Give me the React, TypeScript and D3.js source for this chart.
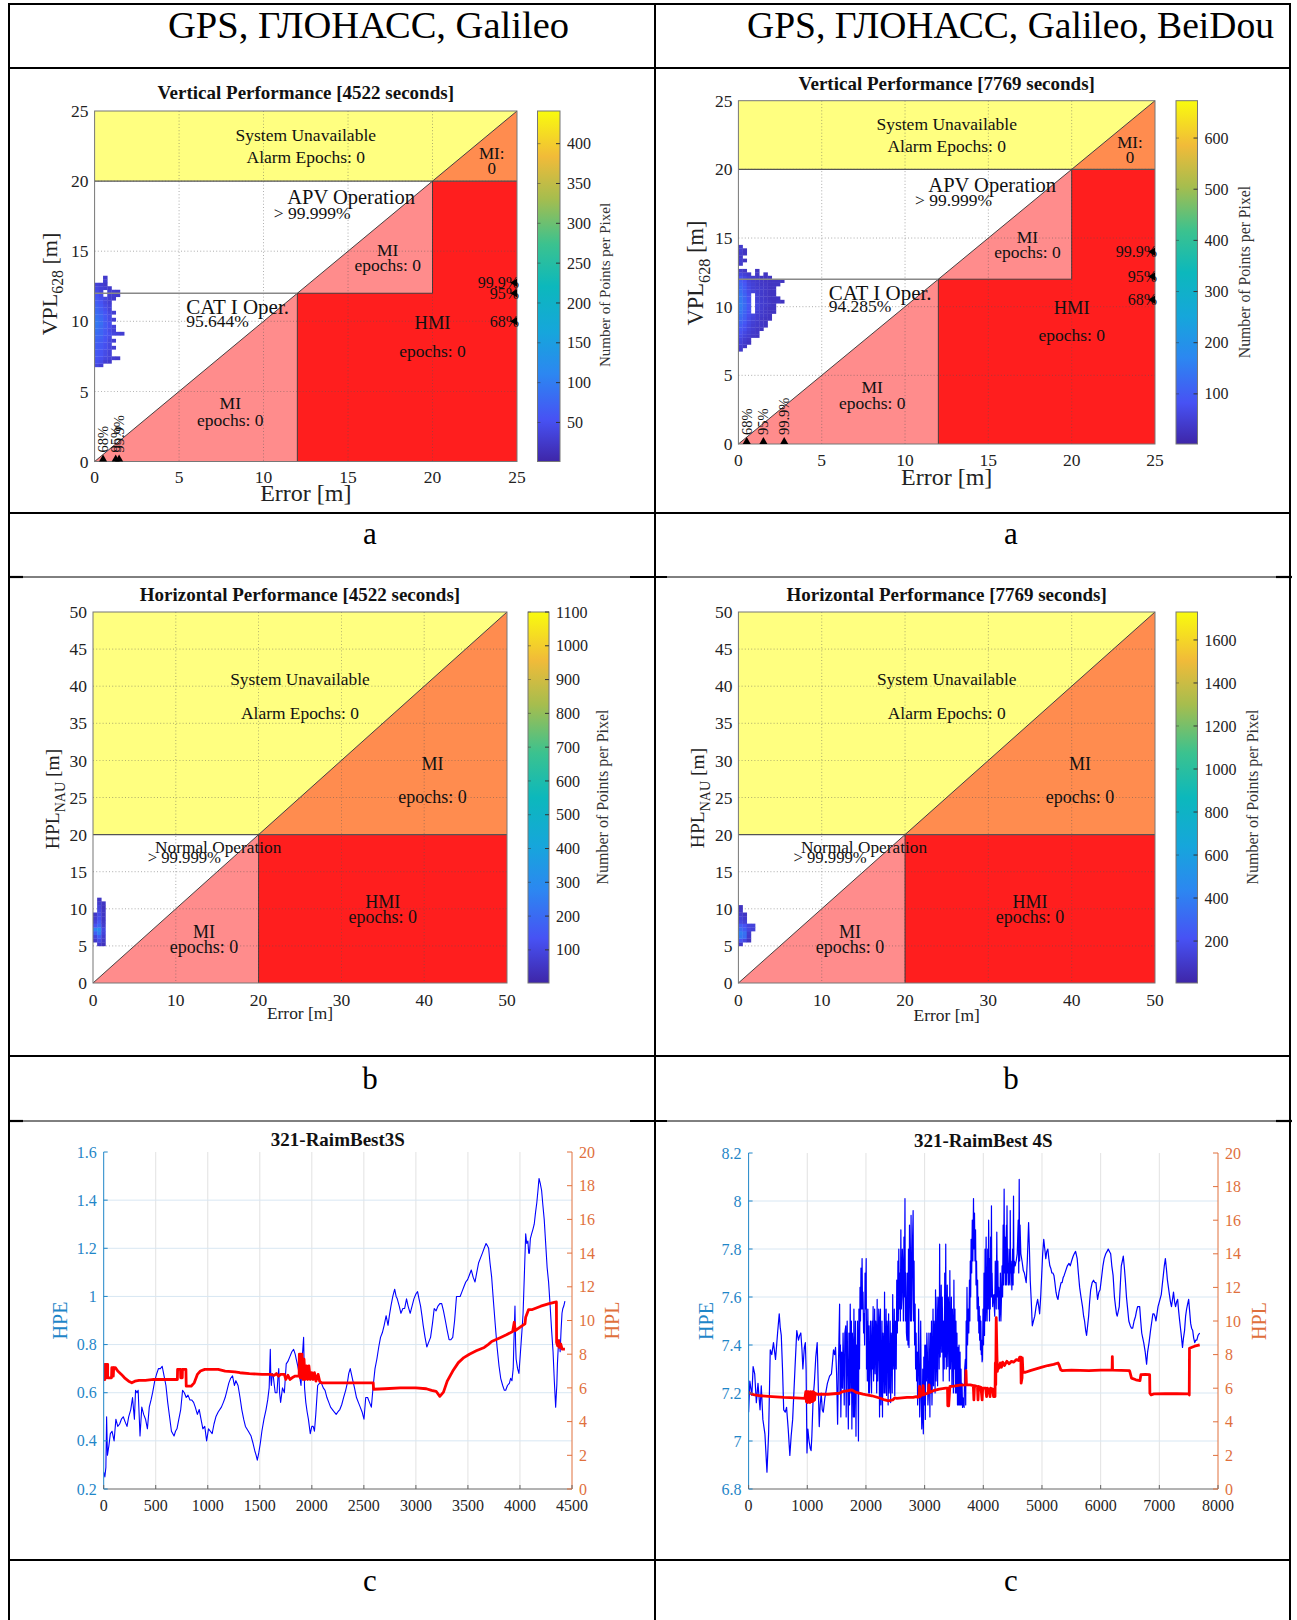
import React from "react";
import * as d3 from "d3";

const W = 1297;
const H = 1620;
const SERIF = "'Liberation Serif', 'Times New Roman', Times, serif";

// ---------------- table text ----------------
const columnHeaders = ["GPS, ГЛОНАСС, Galileo", "GPS, ГЛОНАСС, Galileo, BeiDou"];
const rowLetters = ["a", "b", "c"];

// ---------------- parula colour map ----------------
const parulaStops = [0, 0.12, 0.25, 0.37, 0.5, 0.62, 0.75, 0.87, 1];
const parulaColors = ["#3E26A8", "#4752F4", "#2C87F1", "#16A6DB", "#0CB8BC", "#3BC28F", "#A6BD4E", "#F1BB39", "#F9FB0E"];

// ---------------- Stanford diagram zones ----------------
const zoneYellow = "#FFFF80";
const zoneOrange = "#FF8C4F";
const zonePink = "#FF8C8C";
const zoneRed = "#FF1E1E";

// ---------------- vertical performance ----------------
const vMax = 25;
const vAlertCat = 12;
const vAlertApv = 20;
const vAxisTicks = [0, 5, 10, 15, 20, 25];
const vBin = 0.25;
const vLeftSeconds = 4522;
const vRightSeconds = 7769;
const vLeftCatShare = "95.644%";
const vRightCatShare = "94.285%";
const vApvShare = "> 99.999%";
const vLeftCbRange = [1, 441];
const vLeftCbTicks = [50, 100, 150, 200, 250, 300, 350, 400];
const vRightCbRange = [2, 673];
const vRightCbTicks = [100, 200, 300, 400, 500, 600];
const percentileLabels = ["68%", "95%", "99.9%"];
const vLeftErrPct = [0.5, 1.25, 1.45];
const vLeftPlPct = [10.0, 12.0, 12.75];
const vRightErrPct = [0.5, 1.5, 2.75];
const vRightPlPct = [10.5, 12.2, 14.0];

type Hist = [number, number[]][];

// [protection level bin start, points per pixel for error bins 0, 0.25, 0.5 ...]
const vLeftHist: Hist = [
  [6.75, [40, 30]],
  [7.0, [50, 45, 30, 25]],
  [7.25, [55, 50, 40, 35, 30, 25]],
  [7.5, [60, 55, 45, 35]],
  [7.75, [60, 55, 45, 35]],
  [8.0, [65, 60, 50, 40, 30]],
  [8.25, [65, 60, 50, 40]],
  [8.5, [70, 65, 55, 40, 30]],
  [8.75, [75, 70, 55, 45]],
  [9.0, [80, 75, 60, 50, 40, 35, 30]],
  [9.25, [85, 75, 60, 45, 35]],
  [9.5, [90, 80, 65, 50, 35]],
  [9.75, [95, 85, 65, 50]],
  [10.0, [90, 80, 60, 45, 30]],
  [10.25, [85, 75, 60, 45]],
  [10.5, [80, 70, 55, 40, 30]],
  [10.75, [75, 65, 50, 35]],
  [11.0, [70, 60, 45, 35]],
  [11.25, [65, 55, 40, 30]],
  [11.5, [60, 50, 40, 30, 25]],
  [11.75, [55, 45, 0, 30, 30, 25]],
  [12.0, [45, 35, 0, 30, 30, 25]],
  [12.25, [40, 35, 30, 25]],
  [12.5, [35, 30, 25]],
  [12.75, [0, 0, 30]],
  [13.0, [0, 0, 25]],
];

const vRightHist: Hist = [
  [6.75, [40]],
  [7.0, [45, 35]],
  [7.25, [55, 40, 30]],
  [7.5, [60, 45, 35]],
  [7.75, [70, 55, 45, 35, 30]],
  [8.0, [80, 65, 50, 40, 35]],
  [8.25, [90, 75, 55, 45, 35, 30]],
  [8.5, [100, 80, 60, 45, 40, 35, 30]],
  [8.75, [110, 90, 65, 50, 40, 35, 30]],
  [9.0, [120, 100, 70, 55, 45, 35, 30, 30]],
  [9.25, [130, 105, 75, 60, 45, 40, 35, 30]],
  [9.5, [140, 110, 80, 0, 50, 40, 35, 30, 30]],
  [9.75, [150, 120, 85, 0, 55, 45, 35, 30, 30]],
  [10.0, [155, 125, 90, 0, 60, 45, 40, 35, 30]],
  [10.25, [150, 120, 85, 0, 55, 45, 40, 35, 30, 35, 30]],
  [10.5, [145, 115, 80, 0, 50, 40, 35, 30, 30, 30]],
  [10.75, [140, 110, 75, 0, 50, 40, 35, 30, 30]],
  [11.0, [130, 100, 70, 55, 45, 40, 35, 30, 30]],
  [11.25, [120, 95, 65, 50, 45, 40, 35, 30, 30]],
  [11.5, [110, 90, 60, 50, 40, 35, 35, 30, 30, 30]],
  [11.75, [100, 80, 55, 45, 40, 35, 30, 30, 30, 30, 30]],
  [12.0, [80, 65, 50, 40, 35, 30, 30, 30]],
  [12.25, [60, 50, 40, 0, 35, 0, 30]],
  [12.5, [45, 35, 0, 0, 30]],
  [13.0, [40]],
  [13.25, [45, 30]],
  [13.5, [40]],
  [13.75, [40, 30]],
  [14.0, [45, 30]],
  [14.25, [40]],
];

// ---------------- horizontal performance ----------------
const hMax = 50;
const hAlert = 20;
const hAxisTicks = [0, 10, 20, 30, 40, 50];
const hAxisTicksY = [0, 5, 10, 15, 20, 25, 30, 35, 40, 45, 50];
const hBin = 0.5;
const hLeftCbRange = [2, 1100];
const hLeftCbTicks = [100, 200, 300, 400, 500, 600, 700, 800, 900, 1000, 1100];
const hRightCbRange = [5, 1730];
const hRightCbTicks = [200, 400, 600, 800, 1000, 1200, 1400, 1600];

const hLeftHist: Hist = [
  [5.0, [0, 60, 40]],
  [5.5, [60, 110, 60]],
  [6.0, [90, 160, 70]],
  [6.5, [170, 250, 90]],
  [7.0, [260, 290, 100]],
  [7.5, [130, 190, 70]],
  [8.0, [90, 150, 60]],
  [8.5, [70, 120, 50]],
  [9.0, [60, 110, 50]],
  [9.5, [0, 100, 50]],
  [10.0, [0, 90, 40]],
  [10.5, [0, 70, 50]],
  [11.0, [0, 50]],
];

const hRightHist: Hist = [
  [5.0, [90]],
  [5.5, [220, 160, 70]],
  [6.0, [370, 320, 100]],
  [6.5, [400, 340, 110]],
  [7.0, [320, 260, 160, 130]],
  [7.5, [260, 210, 150, 140]],
  [8.0, [160, 130]],
  [8.5, [130, 100]],
  [9.0, [110, 80]],
  [9.5, [90]],
  [10.0, [70]],
];

// ---------------- RAIM time series ----------------
const hplDomain = [0, 20];
const hplTicks = [0, 2, 4, 6, 8, 10, 12, 14, 16, 18, 20];

const best3Title = "321-RaimBest3S";
const best3TimeTicks = [0, 500, 1000, 1500, 2000, 2500, 3000, 3500, 4000, 4500];
const best3HpeDomain = [0.2, 1.6];
const best3HpeTicks = [0.2, 0.4, 0.6, 0.8, 1.0, 1.2, 1.4, 1.6];

// [time s, HPE m]
const best3Hpe: [number, number][] = [
  [0, 0.27], [11, 0.25], [21, 0.29], [28, 0.5], [36, 0.34], [50, 0.38], [64, 0.43], [80, 0.44], [100, 0.4],
  [117, 0.49], [135, 0.46], [153, 0.47], [170, 0.49], [188, 0.5], [205, 0.48], [224, 0.46], [240, 0.5],
  [260, 0.53], [277, 0.58], [295, 0.49], [306, 0.61], [320, 0.6], [331, 0.61], [349, 0.42], [366, 0.54],
  [384, 0.51], [402, 0.49], [420, 0.45], [438, 0.54], [455, 0.57], [470, 0.6], [491, 0.65], [510, 0.68],
  [526, 0.7], [545, 0.7], [562, 0.71], [580, 0.67], [598, 0.63], [615, 0.56], [633, 0.5], [651, 0.44],
  [676, 0.42], [690, 0.44], [704, 0.45], [722, 0.49], [740, 0.53], [758, 0.61], [775, 0.6], [793, 0.58],
  [810, 0.59], [829, 0.57], [845, 0.57], [864, 0.56], [880, 0.54], [900, 0.51], [918, 0.53], [935, 0.49],
  [953, 0.45], [971, 0.46], [989, 0.4], [1007, 0.45], [1025, 0.44], [1042, 0.43], [1060, 0.47], [1078, 0.5],
  [1100, 0.52], [1131, 0.54], [1150, 0.56], [1167, 0.58], [1185, 0.61], [1202, 0.64], [1220, 0.66],
  [1238, 0.67], [1256, 0.63], [1270, 0.65], [1291, 0.63], [1310, 0.58], [1327, 0.53], [1345, 0.49],
  [1362, 0.46], [1390, 0.44], [1416, 0.42], [1435, 0.39], [1451, 0.36], [1465, 0.34], [1476, 0.32],
  [1490, 0.35], [1505, 0.39], [1520, 0.44], [1540, 0.49], [1560, 0.53], [1576, 0.57], [1590, 0.62],
  [1601, 0.78], [1606, 0.66], [1611, 0.63], [1620, 0.68], [1629, 0.67], [1648, 0.6], [1665, 0.6],
  [1674, 0.66], [1682, 0.7], [1690, 0.6], [1700, 0.56], [1718, 0.62], [1736, 0.6], [1754, 0.72],
  [1770, 0.73], [1789, 0.75], [1808, 0.77], [1825, 0.78], [1840, 0.76], [1850, 0.74], [1865, 0.71],
  [1878, 0.68], [1896, 0.63], [1910, 0.76], [1921, 0.83], [1930, 0.62], [1942, 0.56], [1955, 0.52],
  [1967, 0.49], [1985, 0.43], [2000, 0.46], [2013, 0.46], [2025, 0.44], [2038, 0.51], [2056, 0.63],
  [2075, 0.64], [2092, 0.64], [2110, 0.62], [2127, 0.61], [2145, 0.58], [2163, 0.56], [2180, 0.54],
  [2198, 0.53], [2215, 0.52], [2234, 0.51], [2250, 0.52], [2269, 0.53], [2287, 0.55], [2305, 0.58],
  [2325, 0.61], [2341, 0.64], [2355, 0.68], [2369, 0.7], [2394, 0.65], [2410, 0.62], [2429, 0.58],
  [2447, 0.56], [2465, 0.54], [2483, 0.52], [2501, 0.49], [2518, 0.58], [2536, 0.58], [2554, 0.56],
  [2572, 0.54], [2580, 0.58], [2590, 0.63], [2607, 0.7], [2625, 0.74], [2643, 0.79], [2660, 0.83],
  [2678, 0.85], [2695, 0.88], [2714, 0.92], [2732, 0.88], [2745, 0.92], [2760, 0.96], [2778, 1.0],
  [2796, 1.03], [2810, 1.0], [2821, 0.99], [2840, 0.96], [2856, 0.93], [2875, 0.95], [2892, 0.95],
  [2910, 0.99], [2925, 0.96], [2945, 0.93], [2963, 0.96], [2981, 0.99], [3000, 1.01], [3016, 1.02],
  [3030, 0.99], [3045, 0.96], [3058, 0.92], [3070, 0.88], [3088, 0.83], [3105, 0.79], [3123, 0.81],
  [3141, 0.83], [3160, 0.89], [3176, 0.95], [3194, 0.94], [3212, 0.96], [3230, 0.97], [3248, 0.97],
  [3265, 0.94], [3283, 0.9], [3300, 0.86], [3319, 0.82], [3336, 0.82], [3354, 0.83], [3372, 0.9],
  [3390, 1.0], [3408, 1.0], [3425, 1.0], [3443, 1.02], [3461, 1.04], [3479, 1.06], [3497, 1.07],
  [3515, 1.09], [3532, 1.11], [3550, 1.08], [3568, 1.06], [3585, 1.1], [3603, 1.14], [3621, 1.16],
  [3639, 1.18], [3656, 1.2], [3674, 1.22], [3688, 1.21], [3699, 1.2], [3712, 1.14], [3728, 1.08],
  [3745, 0.98], [3763, 0.88], [3780, 0.79], [3799, 0.71], [3815, 0.66], [3834, 0.63], [3850, 0.61],
  [3863, 0.61], [3880, 0.63], [3899, 0.64], [3910, 0.66], [3923, 0.65], [3935, 0.7], [3941, 0.8],
  [3952, 0.96], [3958, 0.8], [3963, 0.74], [3977, 0.7], [3990, 0.68], [4005, 0.77], [4018, 0.85],
  [4030, 0.93], [4043, 1.1], [4055, 1.26], [4065, 1.22], [4076, 1.23], [4084, 1.18], [4091, 1.18],
  [4100, 1.24], [4112, 1.26], [4125, 1.28], [4137, 1.3], [4150, 1.35], [4162, 1.39], [4173, 1.44],
  [4183, 1.49], [4195, 1.47], [4208, 1.44], [4220, 1.38], [4233, 1.32], [4247, 1.22], [4261, 1.12],
  [4275, 1.06], [4290, 0.96], [4304, 0.86], [4318, 0.77], [4330, 0.65], [4343, 0.54], [4350, 0.6],
  [4354, 0.63], [4360, 0.72], [4368, 0.79], [4378, 0.82], [4386, 0.77], [4395, 0.86], [4404, 0.93],
  [4412, 0.95], [4421, 0.96], [4432, 0.98],
];

// [time s, HPL m]
const best3Hpl: [number, number][] = [
  [0, 6.5], [12, 6.5], [12, 7.4], [20, 7.4], [22, 6.6], [28, 7.4], [38, 7.4], [38, 6.6], [75, 6.6],
  [78, 7.2], [90, 7.2], [92, 6.7], [96, 7.2], [112, 7.2], [135, 7.0], [170, 6.8], [200, 6.6], [240, 6.4],
  [270, 6.3], [300, 6.4], [340, 6.45], [400, 6.45], [480, 6.5], [560, 6.5], [640, 6.5], [708, 6.5],
  [710, 7.1], [738, 7.1], [740, 6.6], [755, 6.6], [757, 7.1], [790, 7.1], [793, 6.1], [840, 6.1],
  [870, 6.3], [900, 6.8], [930, 7.0], [971, 7.1], [1100, 7.1], [1167, 7.0], [1260, 6.95], [1309, 6.9],
  [1400, 6.85], [1522, 6.8], [1600, 6.8], [1640, 6.75], [1660, 6.85], [1680, 6.7], [1700, 6.8],
  [1736, 6.8], [1750, 6.5], [1770, 6.75], [1790, 6.5], [1810, 6.6], [1840, 6.7], [1878, 6.7],
  [1880, 8.0], [1888, 6.6], [1893, 8.0], [1902, 6.6], [1906, 8.0], [1916, 6.5], [1925, 7.7],
  [1935, 6.5], [1948, 7.3], [1960, 6.5], [1972, 7.3], [1985, 6.5], [2000, 6.9], [2012, 6.5],
  [2025, 6.9], [2040, 6.4], [2060, 6.8], [2075, 6.4], [2092, 6.3], [2300, 6.3], [2500, 6.3],
  [2590, 6.3], [2593, 5.92], [2700, 5.95], [2850, 6.0], [3000, 6.0], [3100, 5.95], [3150, 5.85],
  [3194, 5.8], [3230, 5.5], [3265, 5.75], [3301, 6.4], [3354, 7.0], [3408, 7.5], [3461, 7.8],
  [3514, 8.0], [3580, 8.2], [3657, 8.4], [3700, 8.6], [3728, 8.75], [3799, 8.95], [3870, 9.15],
  [3930, 9.35], [3945, 9.9], [3955, 9.4], [4012, 9.65], [4048, 9.8], [4055, 10.2], [4083, 10.65],
  [4119, 10.65], [4200, 10.85], [4280, 11.0], [4350, 11.1], [4352, 8.7], [4362, 8.5], [4372, 8.8],
  [4380, 8.4], [4392, 8.6], [4405, 8.3], [4432, 8.3],
];

const best4Title = "321-RaimBest 4S";
const best4TimeTicks = [0, 1000, 2000, 3000, 4000, 5000, 6000, 7000, 8000];
const best4HpeDomain = [6.8, 8.2];
const best4HpeTicks = [6.8, 7.0, 7.2, 7.4, 7.6, 7.8, 8.0, 8.2];

// [time s, HPE m]
const best4Hpe: [number, number][] = [
  [0, 7.12], [21, 7.25], [56, 7.19], [77, 7.31], [104, 7.28], [132, 7.16], [160, 7.24], [195, 7.13],
  [216, 7.23], [243, 7.09], [278, 7.03], [313, 6.87], [341, 7.03], [369, 7.38], [395, 7.36], [424, 7.41],
  [459, 7.34], [494, 7.45], [522, 7.53], [540, 7.47], [557, 7.44], [578, 7.3], [598, 7.13], [625, 7.12],
  [647, 7.14], [675, 7.05], [703, 6.94], [725, 7.02], [751, 7.09], [790, 7.3], [821, 7.46], [850, 7.42],
  [870, 7.44], [890, 7.45], [910, 7.38], [925, 7.3], [950, 7.39], [967, 7.41], [980, 7.3], [995, 6.95],
  [1010, 7.05], [1030, 7.0], [1050, 6.97], [1065, 6.96], [1078, 7.02], [1100, 7.18], [1120, 7.24],
  [1145, 7.35], [1169, 7.41], [1185, 7.25], [1204, 7.06], [1220, 7.15], [1238, 7.2], [1255, 7.13],
  [1273, 7.12], [1300, 7.18], [1343, 7.24], [1380, 7.27], [1412, 7.28], [1430, 7.33], [1447, 7.38],
  [1465, 7.36], [1482, 7.39], [1500, 7.28], [1517, 7.07], [1530, 7.3], [1551, 7.57], [1558, 7.2],
  [1565, 7.4], [1572, 7.1], [1586, 7.37], [1600, 7.22], [1610, 7.45], [1621, 7.3], [1630, 7.15],
  [1640, 7.45], [1656, 7.48], [1663, 7.1], [1670, 7.32], [1680, 7.5], [1691, 7.23], [1700, 7.05],
  [1710, 7.45], [1720, 7.15], [1732, 7.57], [1745, 7.2], [1752, 7.5], [1760, 7.05], [1768, 7.45],
  [1775, 7.4], [1785, 7.1], [1795, 7.55], [1803, 7.1], [1812, 7.25], [1820, 7.5], [1830, 7.02],
  [1838, 7.4], [1847, 7.2], [1856, 7.5], [1864, 7.34], [1872, 7.0], [1880, 7.55], [1890, 7.3],
  [1899, 7.64], [1907, 7.5], [1915, 7.72], [1925, 7.55], [1934, 7.76], [1942, 7.55], [1950, 7.62],
  [1960, 7.45], [1969, 7.53], [1977, 7.4], [1985, 7.7], [1995, 7.55], [2004, 7.76], [2010, 7.3],
  [2015, 7.5], [2024, 7.25], [2032, 7.55], [2040, 7.4], [2046, 7.2], [2052, 7.48], [2060, 7.2],
  [2070, 7.3], [2078, 7.5], [2087, 7.38], [2095, 7.2], [2105, 7.5], [2113, 7.3], [2122, 7.56],
  [2130, 7.25], [2140, 7.35], [2148, 7.55], [2157, 7.28], [2166, 7.5], [2175, 7.45], [2183, 7.2],
  [2191, 7.59], [2200, 7.25], [2210, 7.4], [2218, 7.55], [2226, 7.35], [2232, 7.1], [2237, 7.5],
  [2247, 7.55], [2255, 7.15], [2265, 7.25], [2273, 7.5], [2282, 7.1], [2290, 7.45], [2300, 7.4],
  [2308, 7.2], [2317, 7.62], [2326, 7.2], [2335, 7.3], [2343, 7.55], [2351, 7.19], [2360, 7.5],
  [2370, 7.45], [2378, 7.15], [2386, 7.53], [2395, 7.2], [2405, 7.25], [2413, 7.5], [2421, 7.16],
  [2430, 7.45], [2440, 7.4], [2448, 7.2], [2456, 7.61], [2465, 7.3], [2475, 7.35], [2483, 7.55],
  [2491, 7.19], [2500, 7.5], [2508, 7.45], [2516, 7.3], [2525, 7.67], [2535, 7.45], [2545, 7.75],
  [2552, 7.5], [2560, 7.8], [2569, 7.55], [2578, 7.7], [2586, 7.5], [2595, 7.88], [2603, 7.55],
  [2612, 7.6], [2620, 7.8], [2630, 7.71], [2638, 7.5], [2648, 7.85], [2656, 7.6], [2665, 8.01],
  [2672, 7.5], [2680, 7.7], [2690, 7.45], [2699, 7.42], [2708, 7.7], [2716, 7.4], [2725, 7.8],
  [2734, 7.39], [2742, 7.9], [2750, 7.7], [2760, 7.5], [2769, 7.94], [2777, 7.5], [2785, 7.6],
  [2795, 7.85], [2804, 7.96], [2812, 7.5], [2820, 7.75], [2829, 7.4], [2838, 7.57], [2846, 7.3],
  [2855, 7.45], [2863, 7.25], [2873, 7.37], [2881, 7.15], [2890, 7.3], [2898, 7.55], [2908, 7.3],
  [2916, 7.1], [2925, 7.22], [2933, 7.5], [2943, 7.2], [2951, 7.05], [2960, 7.1], [2968, 7.3],
  [2978, 7.03], [2986, 7.35], [2995, 7.15], [3003, 7.4], [3012, 7.09], [3020, 7.4], [3030, 7.25],
  [3038, 7.45], [3047, 7.37], [3056, 7.15], [3065, 7.2], [3073, 7.45], [3082, 7.31], [3090, 7.1],
  [3100, 7.45], [3108, 7.2], [3117, 7.5], [3125, 7.15], [3135, 7.3], [3143, 7.55], [3152, 7.23],
  [3160, 7.5], [3170, 7.45], [3178, 7.2], [3186, 7.63], [3195, 7.25], [3205, 7.35], [3213, 7.6],
  [3221, 7.23], [3230, 7.5], [3240, 7.6], [3248, 7.3], [3256, 7.82], [3265, 7.35], [3275, 7.45],
  [3283, 7.65], [3291, 7.37], [3300, 7.6], [3308, 7.45], [3316, 7.25], [3325, 7.5], [3334, 7.3],
  [3343, 7.7], [3351, 7.35], [3360, 7.82], [3369, 7.3], [3378, 7.45], [3386, 7.65], [3395, 7.31],
  [3403, 7.6], [3412, 7.55], [3421, 7.25], [3430, 7.71], [3439, 7.3], [3448, 7.4], [3456, 7.6],
  [3465, 7.23], [3473, 7.55], [3482, 7.45], [3490, 7.2], [3499, 7.67], [3508, 7.3], [3517, 7.55],
  [3525, 7.2], [3534, 7.5], [3542, 7.2], [3551, 7.45], [3560, 7.15], [3569, 7.39], [3577, 7.15],
  [3586, 7.4], [3595, 7.15], [3604, 7.37], [3612, 7.15], [3620, 7.3], [3629, 7.15], [3638, 7.24],
  [3646, 7.14], [3655, 7.18], [3664, 7.15], [3673, 7.14], [3683, 7.3], [3694, 7.34], [3700, 7.15],
  [3708, 7.5], [3715, 7.3], [3722, 7.64], [3732, 7.4], [3743, 7.55], [3753, 7.45], [3764, 7.67],
  [3771, 7.5], [3778, 7.75], [3785, 7.6], [3792, 7.84], [3802, 7.7], [3812, 7.92], [3822, 7.75],
  [3833, 8.01], [3841, 7.8], [3850, 7.95], [3859, 7.75], [3868, 7.88], [3876, 7.65], [3885, 7.75],
  [3894, 7.55], [3903, 7.67], [3910, 7.5], [3917, 7.6], [3924, 7.45], [3931, 7.56], [3938, 7.42],
  [3945, 7.52], [3952, 7.38], [3959, 7.5], [3966, 7.36], [3972, 7.42], [3979, 7.33], [3986, 7.34],
  [3995, 7.55], [4004, 7.4], [4012, 7.7], [4021, 7.44], [4030, 7.8], [4040, 7.5], [4048, 7.85],
  [4056, 7.59], [4065, 7.5], [4075, 7.8], [4083, 7.55], [4091, 7.92], [4100, 7.7], [4106, 7.5],
  [4112, 7.76], [4119, 7.55], [4125, 7.85], [4132, 7.6], [4139, 7.98], [4145, 7.6], [4150, 7.7],
  [4160, 7.56], [4170, 7.6], [4181, 7.61], [4188, 7.55], [4195, 7.52], [4204, 7.75], [4212, 7.7],
  [4221, 7.55], [4230, 7.87], [4239, 7.6], [4248, 7.75], [4256, 7.55], [4265, 7.64], [4273, 7.5],
  [4282, 7.55], [4291, 7.7], [4300, 7.5], [4310, 7.6], [4320, 7.73], [4329, 7.6], [4338, 7.9],
  [4346, 7.65], [4355, 8.05], [4362, 7.7], [4370, 7.85], [4377, 7.65], [4383, 7.76], [4394, 7.9],
  [4399, 7.65], [4404, 7.98], [4412, 7.7], [4420, 7.8], [4430, 7.65], [4439, 7.67], [4450, 7.8],
  [4455, 7.65], [4459, 7.96], [4466, 7.7], [4473, 7.75], [4487, 7.63], [4500, 7.8], [4508, 7.65],
  [4515, 8.02], [4522, 7.7], [4530, 7.75], [4543, 7.73], [4560, 7.75], [4578, 7.78], [4595, 7.92],
  [4604, 7.7], [4612, 8.09], [4619, 7.75], [4626, 7.9], [4640, 7.78], [4660, 7.75], [4682, 7.71],
  [4700, 7.7], [4731, 7.66], [4750, 7.75], [4772, 7.91], [4786, 7.8], [4800, 7.67], [4818, 7.58],
  [4835, 7.48], [4855, 7.5], [4877, 7.52], [4900, 7.56], [4926, 7.59], [4945, 7.56], [4960, 7.53],
  [4978, 7.6], [4995, 7.69], [5012, 7.78], [5030, 7.84], [5048, 7.8], [5065, 7.76], [5082, 7.79],
  [5100, 7.8], [5117, 7.76], [5134, 7.73], [5150, 7.72], [5169, 7.7], [5186, 7.7], [5204, 7.69],
  [5220, 7.66], [5239, 7.62], [5256, 7.6], [5273, 7.59], [5290, 7.62], [5308, 7.64], [5325, 7.66],
  [5343, 7.66], [5360, 7.68], [5378, 7.69], [5405, 7.71], [5433, 7.73], [5460, 7.74], [5482, 7.73],
  [5505, 7.75], [5531, 7.77], [5550, 7.78], [5573, 7.79], [5600, 7.76], [5620, 7.7], [5642, 7.64],
  [5665, 7.6], [5691, 7.56], [5710, 7.52], [5726, 7.5], [5745, 7.46], [5760, 7.44], [5778, 7.48],
  [5795, 7.52], [5812, 7.58], [5830, 7.63], [5855, 7.66], [5879, 7.67], [5900, 7.66], [5920, 7.66],
  [5935, 7.62], [5948, 7.59], [5970, 7.62], [5990, 7.63], [6015, 7.68], [6039, 7.73], [6060, 7.76],
  [6087, 7.78], [6110, 7.79], [6129, 7.8], [6150, 7.79], [6171, 7.78], [6190, 7.73], [6212, 7.69],
  [6235, 7.6], [6254, 7.56], [6270, 7.53], [6282, 7.52], [6300, 7.54], [6317, 7.56], [6335, 7.65],
  [6352, 7.73], [6370, 7.75], [6386, 7.77], [6405, 7.72], [6421, 7.67], [6440, 7.6], [6456, 7.56],
  [6480, 7.5], [6505, 7.48], [6525, 7.47], [6546, 7.47], [6570, 7.5], [6595, 7.52], [6610, 7.54],
  [6630, 7.56], [6650, 7.56], [6665, 7.56], [6683, 7.5], [6700, 7.45], [6717, 7.43], [6734, 7.41],
  [6760, 7.37], [6783, 7.32], [6800, 7.37], [6825, 7.41], [6850, 7.46], [6873, 7.5], [6890, 7.53],
  [6908, 7.53], [6925, 7.52], [6943, 7.5], [6960, 7.53], [6978, 7.56], [7000, 7.58], [7033, 7.61],
  [7050, 7.65], [7068, 7.69], [7085, 7.73], [7103, 7.76], [7120, 7.72], [7138, 7.67], [7155, 7.64],
  [7172, 7.61], [7190, 7.58], [7207, 7.56], [7225, 7.59], [7242, 7.62], [7260, 7.58], [7277, 7.56],
  [7295, 7.58], [7312, 7.59], [7330, 7.54], [7347, 7.5], [7370, 7.45], [7395, 7.39], [7412, 7.43],
  [7430, 7.46], [7448, 7.52], [7465, 7.55], [7482, 7.57], [7500, 7.59], [7517, 7.54], [7534, 7.49],
  [7550, 7.47], [7569, 7.46], [7585, 7.43], [7604, 7.41], [7620, 7.42], [7639, 7.42], [7660, 7.44],
  [7688, 7.45],
];

// [time s, HPL m]
const best4Hpl: [number, number][] = [
  [0, 5.75], [30, 5.7], [80, 5.62], [200, 5.55], [400, 5.5], [600, 5.45], [800, 5.42], [960, 5.4],
  [975, 5.8], [985, 5.2], [995, 5.8], [1005, 5.15], [1015, 5.8], [1025, 5.2], [1035, 5.75], [1045, 5.15],
  [1055, 5.8], [1065, 5.2], [1075, 5.75], [1085, 5.2], [1095, 5.8], [1105, 5.25], [1115, 5.75],
  [1125, 5.3], [1135, 5.7], [1169, 5.64], [1350, 5.64], [1551, 5.7], [1600, 5.8], [1700, 5.85],
  [1760, 5.9], [1830, 5.75], [1950, 5.65], [2100, 5.55], [2247, 5.4], [2320, 5.3], [2386, 5.25],
  [2456, 5.3], [2490, 5.42], [2525, 5.4], [2700, 5.45], [2804, 5.45], [2860, 5.5], [2880, 5.45],
  [2905, 5.5], [2915, 6.1], [2925, 5.5], [2943, 5.66], [2960, 5.6], [2975, 6.15], [2985, 5.6],
  [3012, 5.66], [3060, 5.7], [3075, 6.2], [3085, 5.75], [3150, 5.85], [3250, 5.95], [3360, 6.0],
  [3390, 6.0], [3395, 4.95], [3410, 4.95], [3430, 6.1], [3500, 6.12], [3600, 6.18], [3700, 6.2],
  [3705, 7.05], [3712, 6.2], [3780, 6.2], [3830, 6.15], [3840, 5.3], [3850, 6.15], [3900, 6.1],
  [3910, 5.3], [3920, 6.1], [3960, 6.05], [3980, 5.3], [3990, 6.0], [4040, 6.0], [4056, 5.5],
  [4070, 6.0], [4100, 5.9], [4115, 5.5], [4125, 6.0], [4160, 5.95], [4175, 5.5], [4200, 5.5],
  [4205, 7.5], [4212, 6.2], [4220, 10.2], [4232, 8.0], [4240, 7.0], [4255, 7.4], [4270, 7.2],
  [4290, 7.5], [4310, 7.25], [4330, 7.55], [4360, 7.35], [4400, 7.6], [4440, 7.45], [4480, 7.6],
  [4520, 7.55], [4560, 7.7], [4600, 7.65], [4620, 7.85], [4640, 7.85], [4645, 6.3], [4660, 6.6],
  [4665, 7.8], [4675, 6.95], [4720, 6.95], [4800, 7.05], [4900, 7.15], [5000, 7.25], [5100, 7.35],
  [5200, 7.42], [5273, 7.5], [5290, 7.4], [5320, 7.1], [5343, 7.05], [5500, 7.08], [5800, 7.05],
  [6000, 7.07], [6170, 7.07], [6195, 7.07], [6199, 7.88], [6203, 7.07], [6350, 7.06], [6491, 7.05],
  [6500, 6.95], [6526, 6.6], [6600, 6.5], [6670, 6.45], [6686, 6.8], [6760, 6.82], [6835, 6.8],
  [6839, 5.7], [6860, 5.6], [6908, 5.66], [7100, 5.67], [7300, 5.67], [7500, 5.66], [7510, 5.6],
  [7514, 8.38], [7600, 8.5], [7688, 8.58],
];

// ---------------- helpers ----------------
const fmtTick = (v: number) => String(+v.toFixed(1));
const hpeColor = "#1F86C8";
const hplColor = "#E0703C";

type Box = { left: number; right: number; top: number; bottom: number };

type Note = { x: number; y: number; t: string; s: number; a: "start" | "middle" | "end" };

const vNotes = (catShare: string): Note[] => [
  { x: 12.5, y: 23.3, t: "System Unavailable", s: 17.5, a: "middle" },
  { x: 12.5, y: 21.7, t: "Alarm Epochs: 0", s: 17.5, a: "middle" },
  { x: 23.5, y: 22.0, t: "MI:", s: 17, a: "middle" },
  { x: 23.5, y: 20.9, t: "0", s: 17, a: "middle" },
  { x: 11.4, y: 18.9, t: "APV Operation", s: 20.5, a: "start" },
  { x: 10.6, y: 17.75, t: vApvShare, s: 17.5, a: "start" },
  { x: 17.35, y: 15.1, t: "MI", s: 17.5, a: "middle" },
  { x: 17.35, y: 14.0, t: "epochs: 0", s: 17.5, a: "middle" },
  { x: 5.42, y: 11.05, t: "CAT I Oper.", s: 21, a: "start" },
  { x: 5.42, y: 10.05, t: catShare, s: 17.5, a: "start" },
  { x: 20.0, y: 9.92, t: "HMI", s: 18.5, a: "middle" },
  { x: 20.0, y: 7.92, t: "epochs: 0", s: 17.5, a: "middle" },
  { x: 8.03, y: 4.15, t: "MI", s: 17.5, a: "middle" },
  { x: 8.03, y: 2.96, t: "epochs: 0", s: 17.5, a: "middle" },
];

const hNotes: Note[] = [
  { x: 25, y: 41.0, t: "System Unavailable", s: 17.4, a: "middle" },
  { x: 25, y: 36.4, t: "Alarm Epochs: 0", s: 17.4, a: "middle" },
  { x: 41, y: 29.6, t: "MI", s: 18, a: "middle" },
  { x: 41, y: 25.1, t: "epochs: 0", s: 18, a: "middle" },
  { x: 7.5, y: 18.3, t: "Normal Operation", s: 17.3, a: "start" },
  { x: 6.6, y: 17.0, t: "> 99.999%", s: 16.7, a: "start" },
  { x: 35, y: 10.9, t: "HMI", s: 18, a: "middle" },
  { x: 35, y: 8.9, t: "epochs: 0", s: 18, a: "middle" },
  { x: 13.4, y: 6.9, t: "MI", s: 18, a: "middle" },
  { x: 13.4, y: 4.9, t: "epochs: 0", s: 18, a: "middle" },
];

type PerfProps = {
  id: string;
  kind: "V" | "H";
  box: Box;
  title: string;
  titleY: number;
  cbLeft: number;
  cbWidth: number;
  cbRange: number[];
  cbTicks: number[];
  hist: Hist;
  notes: Note[];
  errPct?: number[];
  plPct?: number[];
  yLabel: [string, string];
  yLabelPos: [number, number];
  yLabelSize: number;
  xLabelY: number;
  xLabelSize: number;
  cbLabelPos: [number, number];
  cbLabelSize: number;
  tickSize: number;
  tickLabelY: number;
};

function PerfPanel(p: PerfProps) {
  const isV = p.kind === "V";
  const M = isV ? vMax : hMax;
  const A1 = isV ? vAlertCat : hAlert;
  const A2 = isV ? vAlertApv : hAlert;
  const bin = isV ? vBin : hBin;
  const { left, right, top, bottom } = p.box;
  const x = d3.scaleLinear().domain([0, M]).range([left, right]);
  const y = d3.scaleLinear().domain([0, M]).range([bottom, top]);
  const pts = (arr: number[][]) => arr.map(([a, b]) => `${x(a)},${y(b)}`).join(" ");

  const regions = isV
    ? [
        { f: zoneYellow, p: [[0, A2], [0, M], [M, M], [A2, A2]] },
        { f: zoneOrange, p: [[A2, A2], [M, M], [M, A2]] },
        { f: zonePink, p: [[0, 0], [A1, A1], [A1, 0]] },
        { f: zonePink, p: [[A1, A1], [A2, A2], [A2, A1]] },
        { f: zoneRed, p: [[A1, 0], [M, 0], [M, A2], [A2, A2], [A2, A1], [A1, A1]] },
      ]
    : [
        { f: zoneYellow, p: [[0, A1], [0, M], [M, M], [A1, A1]] },
        { f: zoneOrange, p: [[A1, A1], [M, M], [M, A1]] },
        { f: zonePink, p: [[0, 0], [A1, A1], [A1, 0]] },
        { f: zoneRed, p: [[A1, 0], [M, 0], [M, A1], [A1, A1]] },
      ];

  const ticksX = isV ? vAxisTicks : hAxisTicks;
  const ticksY = isV ? vAxisTicks : hAxisTicksY;
  const gridX = ticksX.filter((t) => t > 0 && t < M);
  const gridY = ticksY.filter((t) => t > 0 && t < M);

  const [cMin, cMax] = p.cbRange;
  const color = d3
    .scaleLinear<string>()
    .domain(parulaStops.map((s) => cMin + s * (cMax - cMin)))
    .range(parulaColors)
    .clamp(true);
  const cbY = d3.scaleLinear().domain([cMin, cMax]).range([bottom, top]);

  const cells: { x0: number; y0: number; c: number }[] = [];
  p.hist.forEach(([pl, counts]) => {
    counts.forEach((c, i) => {
      if (c > 0) cells.push({ x0: i * bin, y0: pl, c });
    });
  });

  const gradId = `grad-${p.id}`;
  const cx = (left + right) / 2;

  return (
    <g>
      <defs>
        <linearGradient id={gradId} x1="0" y1="1" x2="0" y2="0">
          {parulaStops.map((s, i) => (
            <stop key={i} offset={s} stopColor={parulaColors[i]} />
          ))}
        </linearGradient>
      </defs>
      <text x={cx} y={p.titleY} textAnchor="middle" fontSize={19} fontWeight="bold" fill="#111">
        {p.title}
      </text>
      <rect x={left} y={top} width={right - left} height={bottom - top} fill="#fff" />
      {regions.map((r, i) => (
        <polygon key={i} points={pts(r.p)} fill={r.f} stroke="none" />
      ))}
      {/* dotted grid */}
      {gridX.map((g) => (
        <line key={`gx${g}`} x1={x(g)} x2={x(g)} y1={top} y2={bottom} stroke="#555" strokeWidth={0.8} strokeDasharray="1 2.2" opacity={0.6} />
      ))}
      {gridY.map((g) => (
        <line key={`gy${g}`} x1={left} x2={right} y1={y(g)} y2={y(g)} stroke="#555" strokeWidth={0.8} strokeDasharray="1 2.2" opacity={0.6} />
      ))}
      {/* points per pixel */}
      {cells.map((c, i) => (
        <rect
          key={i}
          x={x(c.x0)}
          y={y(c.y0 + bin)}
          width={x(bin) - x(0) + 0.3}
          height={y(0) - y(bin) + 0.3}
          fill={color(c.c)}
        />
      ))}
      {/* zone boundaries */}
      <line x1={x(0)} y1={y(0)} x2={x(M)} y2={y(M)} stroke="#333" strokeWidth={0.9} />
      <line x1={x(0)} y1={y(A2)} x2={x(M)} y2={y(A2)} stroke="#555" strokeWidth={1.1} />
      {isV ? (
        <g>
          <line x1={x(0)} y1={y(A1)} x2={x(A1)} y2={y(A1)} stroke="#888" strokeWidth={1.5} />
          <line x1={x(A1)} y1={y(0)} x2={x(A1)} y2={y(A1)} stroke="#333" strokeWidth={0.9} />
          <line x1={x(A1)} y1={y(A1)} x2={x(A2)} y2={y(A1)} stroke="#333" strokeWidth={0.9} />
          <line x1={x(A2)} y1={y(A1)} x2={x(A2)} y2={y(A2)} stroke="#333" strokeWidth={0.9} />
        </g>
      ) : (
        <line x1={x(A1)} y1={y(0)} x2={x(A1)} y2={y(A1)} stroke="#333" strokeWidth={0.9} />
      )}
      <rect x={left} y={top} width={right - left} height={bottom - top} fill="none" stroke="#777" strokeWidth={1} />
      {/* zone annotations */}
      {p.notes.map((n, i) => (
        <text key={i} x={x(n.x)} y={y(n.y)} dy="0.35em" textAnchor={n.a} fontSize={n.s} fill="#111">
          {n.t}
        </text>
      ))}
      {/* percentile markers */}
      {p.errPct &&
        p.errPct.map((e, i) => (
          <g key={`e${i}`}>
            <polygon points={`${x(e) - 4},${y(0)} ${x(e) + 4},${y(0)} ${x(e)},${y(0) - 7}`} fill="#000" />
            <text
              transform={`translate(${x(e)},${y(0) - 9}) rotate(-90)`}
              dy="0.35em"
              fontSize={14.5}
              fill="#111"
            >
              {percentileLabels[i]}
            </text>
          </g>
        ))}
      {p.plPct &&
        p.plPct.map((v, i) => (
          <g key={`p${i}`}>
            <text x={right + 2} y={y(v)} dy="0.35em" textAnchor="end" fontSize={16} fill="#111">
              {percentileLabels[i]}
            </text>
            <polygon points={`${right},${y(v) - 4} ${right},${y(v) + 4} ${right - 7},${y(v)}`} fill="#000" />
          </g>
        ))}
      {/* axes tick labels */}
      {ticksX.map((t) => (
        <text key={`tx${t}`} x={x(t)} y={p.tickLabelY} textAnchor="middle" fontSize={p.tickSize} fill="#222">
          {t}
        </text>
      ))}
      {ticksY.map((t) => (
        <text key={`ty${t}`} x={left - 6} y={y(t)} dy="0.35em" textAnchor="end" fontSize={p.tickSize} fill="#222">
          {t}
        </text>
      ))}
      <text x={cx} y={p.xLabelY} textAnchor="middle" fontSize={p.xLabelSize} fill="#222">
        Error [m]
      </text>
      <text
        transform={`translate(${p.yLabelPos[0]},${p.yLabelPos[1]}) rotate(-90)`}
        textAnchor="middle"
        dy="0.35em"
        fontSize={p.yLabelSize}
        fill="#222"
      >
        {p.yLabel[0]}
        <tspan fontSize={p.yLabelSize * 0.72} dy={p.yLabelSize * 0.3}>
          {p.yLabel[1]}
        </tspan>
        <tspan dy={-p.yLabelSize * 0.3}> [m]</tspan>
      </text>
      {/* colour bar */}
      <rect x={p.cbLeft} y={top} width={p.cbWidth} height={bottom - top} fill={`url(#${gradId})`} stroke="#777" strokeWidth={1} />
      {p.cbTicks.map((t) => (
        <g key={`cb${t}`}>
          <line x1={p.cbLeft + p.cbWidth - 4} x2={p.cbLeft + p.cbWidth} y1={cbY(t)} y2={cbY(t)} stroke="#333" strokeWidth={1} />
          <line x1={p.cbLeft} x2={p.cbLeft + 3} y1={cbY(t)} y2={cbY(t)} stroke="#333" strokeWidth={0.8} opacity={0.6} />
          <text x={p.cbLeft + p.cbWidth + 7} y={cbY(t)} dy="0.35em" fontSize={16} fill="#222">
            {t}
          </text>
        </g>
      ))}
      <text
        transform={`translate(${p.cbLabelPos[0]},${p.cbLabelPos[1]}) rotate(-90)`}
        textAnchor="middle"
        dy="0.35em"
        fontSize={p.cbLabelSize}
        fill="#333"
      >
        Number of Points per Pixel
      </text>
    </g>
  );
}

type LineProps = {
  id: string;
  box: Box;
  title: string;
  timeTicks: number[];
  hpeDomain: number[];
  hpeTicks: number[];
  hpe: [number, number][];
  hpl: [number, number][];
  hpeLabelX: number;
  hplLabelX: number;
  hpeWidth: number;
};

function LineChart(p: LineProps) {
  const { left, right, top, bottom } = p.box;
  const tMax = p.timeTicks[p.timeTicks.length - 1];
  const x = d3.scaleLinear().domain([0, tMax]).range([left, right]);
  const yL = d3.scaleLinear().domain(p.hpeDomain).range([bottom, top]);
  const yR = d3.scaleLinear().domain(hplDomain).range([bottom, top]);
  const lineL = d3
    .line<[number, number]>()
    .x((d) => x(d[0]))
    .y((d) => yL(d[1]));
  const lineR = d3
    .line<[number, number]>()
    .x((d) => x(d[0]))
    .y((d) => yR(d[1]));
  const clipId = `clip-${p.id}`;
  const midY = (top + bottom) / 2;
  return (
    <g>
      <defs>
        <clipPath id={clipId}>
          <rect x={left} y={top - 2} width={right - left} height={bottom - top + 4} />
        </clipPath>
      </defs>
      <text x={(left + right) / 2} y={top - 6} textAnchor="middle" fontSize={19} fontWeight="bold" fill="#111">
        {p.title}
      </text>
      {p.timeTicks.slice(1, -1).map((t) => (
        <line key={`vg${t}`} x1={x(t)} x2={x(t)} y1={top} y2={bottom} stroke="#e2e2e2" strokeWidth={1} />
      ))}
      {p.hpeTicks.slice(1, -1).map((t) => (
        <line key={`hg${t}`} x1={left} x2={right} y1={yL(t)} y2={yL(t)} stroke="#d8e7f3" strokeWidth={1} />
      ))}
      <g clipPath={`url(#${clipId})`}>
        <path d={lineL(p.hpe) || ""} fill="none" stroke="#0000FF" strokeWidth={p.hpeWidth} strokeLinejoin="round" />
        <path d={lineR(p.hpl) || ""} fill="none" stroke="#FF0000" strokeWidth={2.8} strokeLinejoin="round" />
      </g>
      {/* axes */}
      <line x1={left} x2={right} y1={bottom} y2={bottom} stroke="#666" strokeWidth={1} />
      <line x1={left} x2={left} y1={top} y2={bottom} stroke={hpeColor} strokeWidth={1} />
      <line x1={right} x2={right} y1={top} y2={bottom} stroke={hplColor} strokeWidth={1} />
      {p.timeTicks.map((t) => (
        <g key={`tt${t}`}>
          <line x1={x(t)} x2={x(t)} y1={bottom} y2={bottom - 4} stroke="#666" />
          <text x={x(t)} y={bottom + 22} textAnchor="middle" fontSize={16} fill="#262626">
            {t}
          </text>
        </g>
      ))}
      {p.hpeTicks.map((t) => (
        <g key={`lt${t}`}>
          <line x1={left} x2={left + 4} y1={yL(t)} y2={yL(t)} stroke={hpeColor} />
          <text x={left - 7} y={yL(t)} dy="0.35em" textAnchor="end" fontSize={16} fill={hpeColor}>
            {fmtTick(t)}
          </text>
        </g>
      ))}
      {hplTicks.map((t) => (
        <g key={`rt${t}`}>
          <line x1={right} x2={right - 5} y1={yR(t)} y2={yR(t)} stroke={hplColor} />
          <text x={right + 7} y={yR(t)} dy="0.35em" textAnchor="start" fontSize={16} fill={hplColor}>
            {t}
          </text>
        </g>
      ))}
      <text transform={`translate(${p.hpeLabelX},${midY}) rotate(-90)`} textAnchor="middle" dy="0.35em" fontSize={20} fill={hpeColor}>
        HPE
      </text>
      <text transform={`translate(${p.hplLabelX},${midY}) rotate(-90)`} textAnchor="middle" dy="0.35em" fontSize={20} fill={hplColor}>
        HPL
      </text>
    </g>
  );
}

function Table() {
  const xL = 9;
  const xM = 655;
  const xR = 1290;
  const thick = [4, 68, 513, 1056, 1560];
  const thin = [577, 1121];
  const stubs = [
    [9, 23],
    [630, 667],
    [1276, 1292],
  ];
  const letterY = [544, 1089, 1591];
  return (
    <g>
      {thick.map((yy) => (
        <line key={`t${yy}`} x1={xL - 1} x2={xR + 1} y1={yy} y2={yy} stroke="#000" strokeWidth={2} />
      ))}
      {thin.map((yy) => (
        <g key={`n${yy}`}>
          <line x1={xL} x2={xR} y1={yy} y2={yy} stroke="#000" strokeWidth={1} />
          {stubs.map(([a, b], i) => (
            <line key={i} x1={a} x2={b} y1={yy} y2={yy} stroke="#000" strokeWidth={2.2} />
          ))}
        </g>
      ))}
      {[xL, xM, xR].map((xx) => (
        <line key={`v${xx}`} x1={xx} x2={xx} y1={3} y2={H} stroke="#000" strokeWidth={2} />
      ))}
      <text x={168} y={38} fontSize={37} fill="#000" textLength={401} lengthAdjust="spacingAndGlyphs">
        {columnHeaders[0]}
      </text>
      <text x={747} y={38} fontSize={37} fill="#000" textLength={527} lengthAdjust="spacingAndGlyphs">
        {columnHeaders[1]}
      </text>
      {rowLetters.map((l, i) => (
        <g key={l}>
          <text x={370} y={letterY[i]} textAnchor="middle" fontSize={31} fill="#000">
            {l}
          </text>
          <text x={1011} y={letterY[i]} textAnchor="middle" fontSize={31} fill="#000">
            {l}
          </text>
        </g>
      ))}
    </g>
  );
}

export default function App() {
  return (
    <svg
      width={W}
      height={H}
      viewBox={`0 0 ${W} ${H}`}
      style={{ position: "absolute", left: 0, top: 0, background: "#fff" }}
      fontFamily={SERIF}
    >
      <rect width={W} height={H} fill="#fff" />
      <PerfPanel
        id="vl"
        kind="V"
        box={{ left: 94.6, right: 517, top: 111, bottom: 461.5 }}
        title={`Vertical Performance [${vLeftSeconds} seconds]`}
        titleY={99}
        cbLeft={537.5}
        cbWidth={22.5}
        cbRange={vLeftCbRange}
        cbTicks={vLeftCbTicks}
        hist={vLeftHist}
        notes={vNotes(vLeftCatShare)}
        errPct={vLeftErrPct}
        plPct={vLeftPlPct}
        yLabel={["VPL", "628"]}
        yLabelPos={[49, 284]}
        yLabelSize={22}
        xLabelY={501}
        xLabelSize={24}
        cbLabelPos={[605, 285]}
        cbLabelSize={15}
        tickSize={17.5}
        tickLabelY={483}
      />
      <PerfPanel
        id="vr"
        kind="V"
        box={{ left: 738.4, right: 1155, top: 100.7, bottom: 444 }}
        title={`Vertical Performance [${vRightSeconds} seconds]`}
        titleY={90}
        cbLeft={1176}
        cbWidth={21.5}
        cbRange={vRightCbRange}
        cbTicks={vRightCbTicks}
        hist={vRightHist}
        notes={vNotes(vRightCatShare)}
        errPct={vRightErrPct}
        plPct={vRightPlPct}
        yLabel={["VPL", "628"]}
        yLabelPos={[695, 273]}
        yLabelSize={22.5}
        xLabelY={485}
        xLabelSize={24}
        cbLabelPos={[1244, 272]}
        cbLabelSize={15.75}
        tickSize={17.5}
        tickLabelY={466}
      />
      <PerfPanel
        id="hl"
        kind="H"
        box={{ left: 93, right: 507, top: 612, bottom: 983 }}
        title="Horizontal Performance [4522 seconds]"
        titleY={601}
        cbLeft={528}
        cbWidth={21}
        cbRange={hLeftCbRange}
        cbTicks={hLeftCbTicks}
        hist={hLeftHist}
        notes={hNotes}
        yLabel={["HPL", "NAU"]}
        yLabelPos={[52, 799]}
        yLabelSize={19.5}
        xLabelY={1019}
        xLabelSize={17.4}
        cbLabelPos={[602, 797]}
        cbLabelSize={16}
        tickSize={17.5}
        tickLabelY={1006}
      />
      <PerfPanel
        id="hr"
        kind="H"
        box={{ left: 738.4, right: 1155, top: 612, bottom: 983 }}
        title="Horizontal Performance [7769 seconds]"
        titleY={601}
        cbLeft={1176}
        cbWidth={21.5}
        cbRange={hRightCbRange}
        cbTicks={hRightCbTicks}
        hist={hRightHist}
        notes={hNotes}
        yLabel={["HPL", "NAU"]}
        yLabelPos={[697, 798]}
        yLabelSize={19.5}
        xLabelY={1021}
        xLabelSize={17.4}
        cbLabelPos={[1252, 797]}
        cbLabelSize={16}
        tickSize={17.5}
        tickLabelY={1006}
      />
      <LineChart
        id="l3"
        box={{ left: 103.7, right: 572, top: 1152, bottom: 1489 }}
        title={best3Title}
        timeTicks={best3TimeTicks}
        hpeDomain={best3HpeDomain}
        hpeTicks={best3HpeTicks}
        hpe={best3Hpe}
        hpl={best3Hpl}
        hpeLabelX={60}
        hplLabelX={612}
        hpeWidth={1.1}
      />
      <LineChart
        id="l4"
        box={{ left: 748.6, right: 1218, top: 1153, bottom: 1489 }}
        title={best4Title}
        timeTicks={best4TimeTicks}
        hpeDomain={best4HpeDomain}
        hpeTicks={best4HpeTicks}
        hpe={best4Hpe}
        hpl={best4Hpl}
        hpeLabelX={706}
        hplLabelX={1259}
        hpeWidth={1.2}
      />
      <Table />
    </svg>
  );
}
